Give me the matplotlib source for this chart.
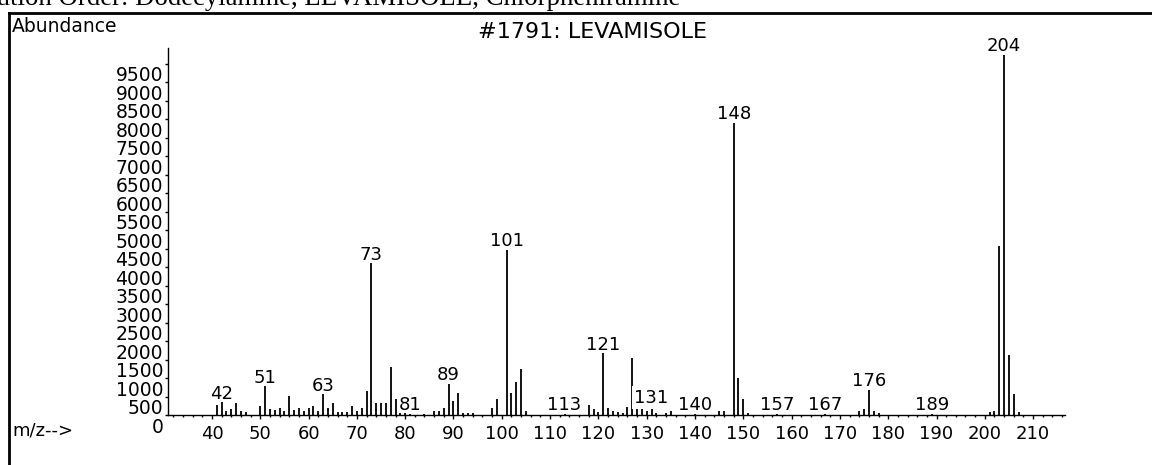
import matplotlib
matplotlib.use("Agg")
import matplotlib.pyplot as plt
from matplotlib.lines import Line2D
from matplotlib.transforms import ScaledTranslation

# ---------------- data ----------------
mz = [41, 42, 43, 44, 45, 46, 47, 50, 51, 52, 53, 54, 55, 56, 57, 58, 59, 60,
      61, 62, 63, 64, 65, 66, 67, 68, 69, 70, 71, 72, 73, 74, 75, 76, 77, 78,
      79, 80, 81, 84, 86, 87, 88, 89, 90, 91, 92, 93, 94, 98, 99, 101, 102,
      103, 104, 105, 113, 118, 119, 120, 121, 122, 123, 124, 125, 126, 127,
      128, 129, 130, 131, 132, 134, 135, 140, 145, 146, 148, 149, 150, 151,
      157, 167, 174, 175, 176, 177, 178, 189, 201, 202, 203, 204, 205, 206, 207]
abundance = [280, 340, 110, 170, 330, 110, 70, 240, 780, 170, 130, 200, 120, 520,
             130, 200, 110, 180, 230, 120, 560, 190, 320, 70, 70, 90, 230, 110,
             180, 640, 4100, 320, 320, 330, 1310, 430, 60, 60, 40, 40, 110, 110,
             180, 840, 390, 590, 60, 50, 50, 180, 420, 4460, 600, 880, 1240, 120,
             40, 270, 160, 80, 1670, 180, 120, 80, 50, 220, 1530, 210, 180, 120,
             240, 60, 60, 100, 40, 110, 110, 7900, 990, 430, 60, 40, 40, 110, 170,
             680, 120, 50, 40, 80, 120, 4570, 9730, 1620, 560, 80]
labeled_peaks = [42, 51, 63, 73, 81, 89, 101, 113, 121, 131, 140, 148, 157, 167,
                 176, 189, 204]
masking_labels = [131]
x_major = list(range(40, 211, 10))
x_minor = list(range(32, 217, 2))
y_ticks = list(range(0, 9501, 500))
title = "#1791: LEVAMISOLE"
y_title = "Abundance"
x_title = "m/z-->"
header = "Elution Order: Dodecylamine, LEVAMISOLE, Chlorpheniramine"

# ---------------- figure ----------------
W, H = 1152, 465
fig = plt.figure(figsize=(W / 100, H / 100), dpi=100)
plt.rcParams['font.family'] = ['DejaVu Sans']
FS = 13

def fx(px):
    return px / W

def fy(py):
    return 1 - py / H

ax_l, ax_r, ax_b, ax_t = 168, 1065, 415, 48
ax = fig.add_axes([fx(ax_l), fy(ax_b), fx(ax_r) - fx(ax_l), fy(ax_t) - fy(ax_b)])
ax.set_xlim(30.9, 216.6)
ax.set_ylim(0, 9919)
for s in ['top', 'right']:
    ax.spines[s].set_visible(False)
for s in ['left', 'bottom']:
    ax.spines[s].set_linewidth(1.0)
    ax.spines[s].set_color('black')
    ax.spines[s].set_zorder(5)

ax.vlines(mz, 0, abundance, colors='black', linewidth=1.3, zorder=2)

ax.set_xticks(x_major)
ax.set_xticks(x_minor, minor=True)
ax.set_xticklabels([str(v) for v in x_major])
ax.set_yticks(y_ticks)
ax.set_yticklabels([str(v) for v in y_ticks])
ax.tick_params(axis='x', which='major', direction='out', length=3, width=1,
               pad=4, labelsize=FS)
ax.tick_params(axis='x', which='minor', direction='out', length=1.5, width=1)
ax.tick_params(axis='y', which='major', direction='out', length=2.5, width=1,
               pad=1, labelsize=FS + 0.5)
off = ScaledTranslation(0, -10 / 100, fig.dpi_scale_trans)
for lbl in ax.get_yticklabels():
    lbl.set_transform(lbl.get_transform() + off)

ab_map = dict(zip(mz, abundance))
for m in labeled_peaks:
    kw = {}
    if m in masking_labels:
        kw['bbox'] = dict(boxstyle='square,pad=0.12', fc='white', ec='none')
    ax.annotate(str(m), xy=(m, ab_map[m]), xytext=(0, 2.6),
                textcoords='offset points', ha='center', va='baseline',
                fontsize=FS, zorder=3, **kw)

# texts
fig.text(fx(12), fy(27), y_title, ha='left', va='center', fontsize=FS + 0.5)
fig.text(fx(592), fy(32), title, ha='center', va='center', fontsize=16)
fig.text(fx(12), fy(430), x_title, ha='left', va='center', fontsize=FS)
fig.text(fx(680), fy(5), header, ha='right', va='baseline', fontsize=19.3,
         family='Liberation Serif')

# frame lines
fig.add_artist(Line2D([fx(9), 1.0], [fy(13), fy(13)], color='black',
                      linewidth=2.0, transform=fig.transFigure))
fig.add_artist(Line2D([fx(9), fx(9)], [fy(13), 0.0], color='black',
                      linewidth=2.0, transform=fig.transFigure))

fig.savefig('out.png', dpi=100)
